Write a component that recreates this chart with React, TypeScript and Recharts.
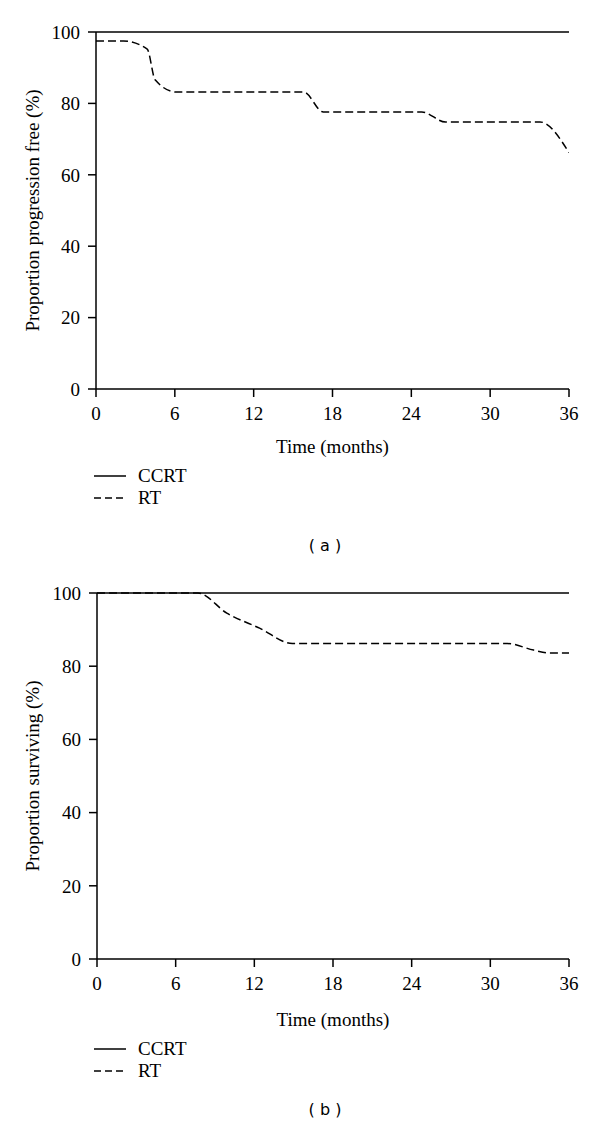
import React from 'react';
import { LineChart, Line, XAxis, YAxis } from 'recharts';

const monthTicks = [0, 6, 12, 18, 24, 30, 36];
const pctTicks = [0, 20, 40, 60, 80, 100];

// Panel (a): progression-free survival
const pfsCcrtMonths = [0, 36];
const pfsCcrtValues = [100, 100];
const pfsRtMonths = [0, 2.1, 3.9, 4.5, 6.1, 15.8, 17.3, 24.8, 26.6, 33.8, 36];
const pfsRtValues = [97.5, 97.5, 95.2, 86.6, 83.2, 83.2, 77.6, 77.6, 74.8, 74.8, 66.2];

// Panel (b): overall survival
const osCcrtMonths = [0, 36];
const osCcrtValues = [100, 100];
const osRtMonths = [0, 7.7, 9.9, 12.4, 14.9, 31.3, 33.3, 34.5, 36];
const osRtValues = [100, 100, 94.5, 90.4, 86.2, 86.2, 84.4, 83.6, 83.6];

const series = ['CCRT', 'RT'];
const panelLabels = ['( a )', '( b )'];
const yTitles = ['Proportion progression free (%)', 'Proportion surviving (%)'];
const xTitle = 'Time (months)';

const zip = (m: number[], v: number[]) => m.map((t, i) => ({ t, v: v[i] }));

const SERIF = '"Liberation Serif", "Times New Roman", serif';
const FS = 19;
const INK = '#000';

type PanelProps = {
  top: number;
  height: number;
  mTop: number;
  yWidth: number;
  xTitleOffset: number;
  ccrt: { t: number; v: number }[];
  rt: { t: number; v: number }[];
  yTitle: string;
};

const Panel = ({ top, height, mTop, yWidth, xTitleOffset, ccrt, rt, yTitle }: PanelProps) => (
  <div style={{ position: 'absolute', left: 0, top }}>
    <LineChart width={600} height={height} margin={{ top: mTop, right: 31, bottom: 40, left: 0 }}>
      <XAxis
        dataKey="t"
        type="number"
        domain={[0, 36]}
        ticks={monthTicks}
        allowDataOverflow
        height={41}
        tickSize={8}
        tickMargin={10}
        stroke={INK}
        strokeWidth={1.5}
        tick={{ fill: INK, fontSize: FS, fontFamily: SERIF }}
        label={{ value: xTitle, position: 'bottom', offset: xTitleOffset, style: { fill: INK, fontSize: FS, fontFamily: SERIF } }}
      />
      <YAxis
        dataKey="v"
        type="number"
        domain={[0, 100]}
        ticks={pctTicks}
        width={yWidth}
        tickSize={8}
        tickMargin={8}
        stroke={INK}
        strokeWidth={1.5}
        tick={{ fill: INK, fontSize: FS, fontFamily: SERIF }}
        label={{ value: yTitle, angle: -90, position: 'center', dx: -16, style: { fill: INK, fontSize: FS, fontFamily: SERIF, textAnchor: 'middle' } }}
      />
      <Line data={ccrt} dataKey="v" name={series[0]} type="linear" stroke={INK} strokeWidth={1.5} dot={false} isAnimationActive={false} />
      <Line data={rt} dataKey="v" name={series[1]} type="monotone" stroke={INK} strokeWidth={1.5} strokeDasharray="8 4" dot={false} isAnimationActive={false} />
    </LineChart>
  </div>
);

const LegendBlock = ({ top }: { top: number }) => (
  <div style={{ position: 'absolute', left: 94, top, fontFamily: SERIF, fontSize: FS, color: INK }}>
    {series.map((s, i) => (
      <div key={s} style={{ display: 'flex', alignItems: 'center', height: 22 }}>
        <svg width={34} height={10} style={{ marginRight: 10 }}>
          <line x1={0} y1={5} x2={32} y2={5} stroke={INK} strokeWidth={1.5} strokeDasharray={i === 1 ? '7 4' : undefined} />
        </svg>
        <span>{s}</span>
      </div>
    ))}
  </div>
);

const Caption = ({ top, text }: { top: number; text: string }) => (
  <div style={{ position: 'absolute', left: 0, width: 650, top, textAlign: 'center', fontFamily: '"DejaVu Sans", sans-serif', fontSize: 16, color: INK }}>
    {text}
  </div>
);

export default function App() {
  return (
    <div style={{ position: 'absolute', left: 0, top: 0, width: 600, height: 1135, background: '#fff' }}>
      <Panel top={0} height={470} mTop={32} yWidth={96} xTitleOffset={10} ccrt={zip(pfsCcrtMonths, pfsCcrtValues)} rt={zip(pfsRtMonths, pfsRtValues)} yTitle={yTitles[0]} />
      <LegendBlock top={465} />
      <Caption top={536} text={panelLabels[0]} />
      <Panel top={560} height={480} mTop={33} yWidth={97} xTitleOffset={13} ccrt={zip(osCcrtMonths, osCcrtValues)} rt={zip(osRtMonths, osRtValues)} yTitle={yTitles[1]} />
      <LegendBlock top={1038} />
      <Caption top={1100} text={panelLabels[1]} />
    </div>
  );
}
